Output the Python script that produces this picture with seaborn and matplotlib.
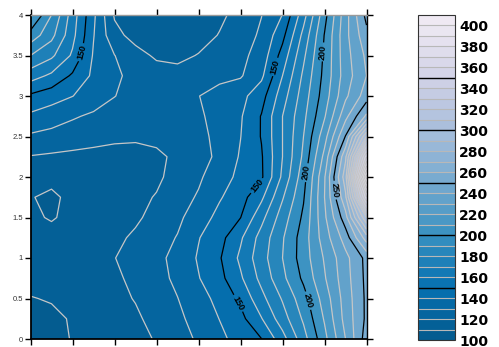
import numpy as np
import matplotlib
matplotlib.use("Agg")
import matplotlib.pyplot as plt
from matplotlib.colors import ListedColormap
from matplotlib.ticker import FuncFormatter
import seaborn as sns

# Grid coordinates
x_vals = [0, 0.25, 0.5, 0.75, 1.0, 1.25, 1.5, 1.75, 2.0, 2.25, 2.5, 2.75, 3.0, 3.25, 3.5, 3.75, 4.0]
y_vals = [0, 0.25, 0.5, 0.75, 1.0, 1.25, 1.5, 1.75, 2.0, 2.25, 2.5, 2.75, 3.0, 3.25, 3.5, 3.75, 4.0]

# Field values, one list per row (bottom row first)
row_y000 = [104, 107, 110.5, 113, 115.5, 118, 120.5, 125.5, 131.5, 137.5, 144, 149.8, 166, 186, 207, 230, 255]
row_y025 = [106.5, 108, 110.8, 113.5, 116, 118.5, 123, 128, 133.5, 140.2, 147, 159.5, 175.5, 191.5, 211, 233.5, 252]
row_y050 = [109.6, 110.7, 113, 115, 117.5, 120.5, 125, 129.8, 136, 143, 152, 167, 181, 196, 214.5, 234.5, 252]
row_y075 = [113, 114, 115, 116.5, 118.5, 122, 126.8, 132, 139.5, 147, 158.5, 173, 187.5, 202, 219, 236, 252.5]
row_y100 = [115, 115, 115.5, 117, 119.8, 123.5, 127.5, 133, 141, 149, 162, 176, 190, 205, 221, 237, 253]
row_y125 = [114, 114, 115, 116.5, 118, 121.5, 126, 130.5, 139.5, 146.5, 158.5, 174, 189, 205, 225, 244.5, 275]
row_y150 = [112, 109, 113, 115, 116.5, 118.5, 123, 128, 135, 143, 149.8, 167, 185, 202, 228, 256, 310]
row_y175 = [110.8, 107, 114, 115.5, 116.5, 118, 120.5, 126, 131, 139, 146, 158, 179, 199, 230, 268, 360]
row_y200 = [115, 114.5, 115, 115.5, 116, 116.5, 118.5, 123, 128.5, 135.5, 142.5, 148.5, 172, 196, 229, 276, 405]
row_y225 = [119.5, 118.5, 117.5, 117, 116.5, 116.5, 118, 122, 126.5, 132, 141, 149, 170, 192, 223, 268, 360]
row_y250 = [128.5, 127, 125.5, 123.5, 122, 121.5, 122.5, 124.5, 127.5, 132.5, 139.8, 150.6, 170, 190, 216, 250.5, 310]
row_y275 = [138, 134.5, 131, 128.5, 126.5, 125, 124.5, 125.5, 128.5, 133.5, 139, 150.6, 170, 187.5, 209, 237, 262]
row_y300 = [148.3, 144.5, 140.2, 135, 130.2, 127, 126, 127, 129.8, 133.5, 137, 146, 165.5, 185, 205, 228, 245]
row_y325 = [164.5, 158, 148.5, 138, 131.5, 127.5, 124.5, 123.5, 125, 127.5, 129, 138, 160, 182, 203, 225, 240]
row_y350 = [180, 172, 158.5, 139, 130.2, 123.5, 118.5, 117.5, 120.5, 124, 127.5, 134, 154, 178, 202, 226, 242]
row_y375 = [196, 183, 163, 140.5, 123, 116.5, 115, 114.5, 116, 120.5, 125.5, 131.5, 147, 173, 200.5, 227, 247]
row_y400 = [212, 190, 165, 142, 119, 116, 114, 113.5, 115, 118, 123.5, 129.8, 140.2, 166, 196.5, 226, 253]

levels = list(range(100, 420, 10))
labelled_levels = [150, 200, 250]
bar_major_levels = [150, 200, 250, 300, 350]
cbar_ticks = list(range(100, 420, 20))
axis_ticks = [0, 0.5, 1, 1.5, 2, 2.5, 3, 3.5, 4]

# Where the inline contour labels sit
label_spots = [(0.59, 3.54), (2.91, 3.36), (2.71, 1.88), (2.47, 0.44),
               (3.54, 3.54), (3.31, 2.05), (3.33, 0.48), (3.65, 1.84)]

sns.set_theme(style="white")
plt.rcParams["font.family"] = ["Liberation Sans", "DejaVu Sans"]

Z = np.array([row_y000, row_y025, row_y050, row_y075, row_y100, row_y125,
              row_y150, row_y175, row_y200, row_y225, row_y250, row_y275,
              row_y300, row_y325, row_y350, row_y375, row_y400])
X, Y = np.meshgrid(x_vals, y_vals)

# Reversed PuBu, trimmed at both ends
pubu = sns.color_palette("PuBu_r", 1000)
cmap = ListedColormap(pubu[125:905])

fig = plt.figure(figsize=(4.99, 3.47), dpi=100)
ax = fig.add_axes([30.5 / 499, 1 - 339 / 347, 336 / 499, 324 / 347])
cax = fig.add_axes([418 / 499, 1 - 340 / 347, 37 / 499, 325 / 347])

minor_levels = [lv for lv in levels if lv not in labelled_levels]
cf = ax.contourf(X, Y, Z, levels=levels, cmap=cmap)
cl_minor = ax.contour(X, Y, Z, levels=minor_levels, colors="#c6c6c6", linewidths=0.9)
cl_major = ax.contour(X, Y, Z, levels=labelled_levels, colors="black", linewidths=0.9)
texts = ax.clabel(cl_major, manual=label_spots, fmt="%d",
                  fontsize=6.5, colors="black", inline=True, inline_spacing=2)
for t in texts:
    t.set_fontweight("bold")

ax.set_xlim(0, 4)
ax.set_ylim(0, 4)
ax.set_xticks(axis_ticks)
ax.set_yticks(axis_ticks)
fmt = FuncFormatter(lambda v, p: f"{v:g}")
ax.xaxis.set_major_formatter(fmt)
ax.yaxis.set_major_formatter(fmt)
ax.tick_params(axis="both", which="major", direction="out", length=4, width=1,
               color="black", labelsize=5.5, labelcolor="#333333", pad=1.5,
               top=True, right=True, bottom=True, left=True,
               labeltop=False, labelright=False)
for name, sp in ax.spines.items():
    sp.set_visible(True)
    sp.set_color("black")
    sp.set_linewidth(1.3 if name in ("left", "bottom") else 1.0)
ax.spines["top"].set_color("#9a9a9a")

cbar = fig.colorbar(cf, cax=cax, ticks=cbar_ticks)
bar_levels = levels[1:-1]
cbar.add_lines(bar_levels,
               ["black" if lv in bar_major_levels else "#b8b8b8" for lv in bar_levels],
               [1.0 if lv in bar_major_levels else 0.8 for lv in bar_levels])
cbar.outline.set_edgecolor("#333333")
cbar.outline.set_linewidth(0.8)
cax.tick_params(length=0, pad=3, labelsize=10, labelcolor="black")
for t in cax.get_yticklabels():
    t.set_fontweight("bold")
    t.set_family("DejaVu Sans")

fig.savefig("out.png", dpi=100)
